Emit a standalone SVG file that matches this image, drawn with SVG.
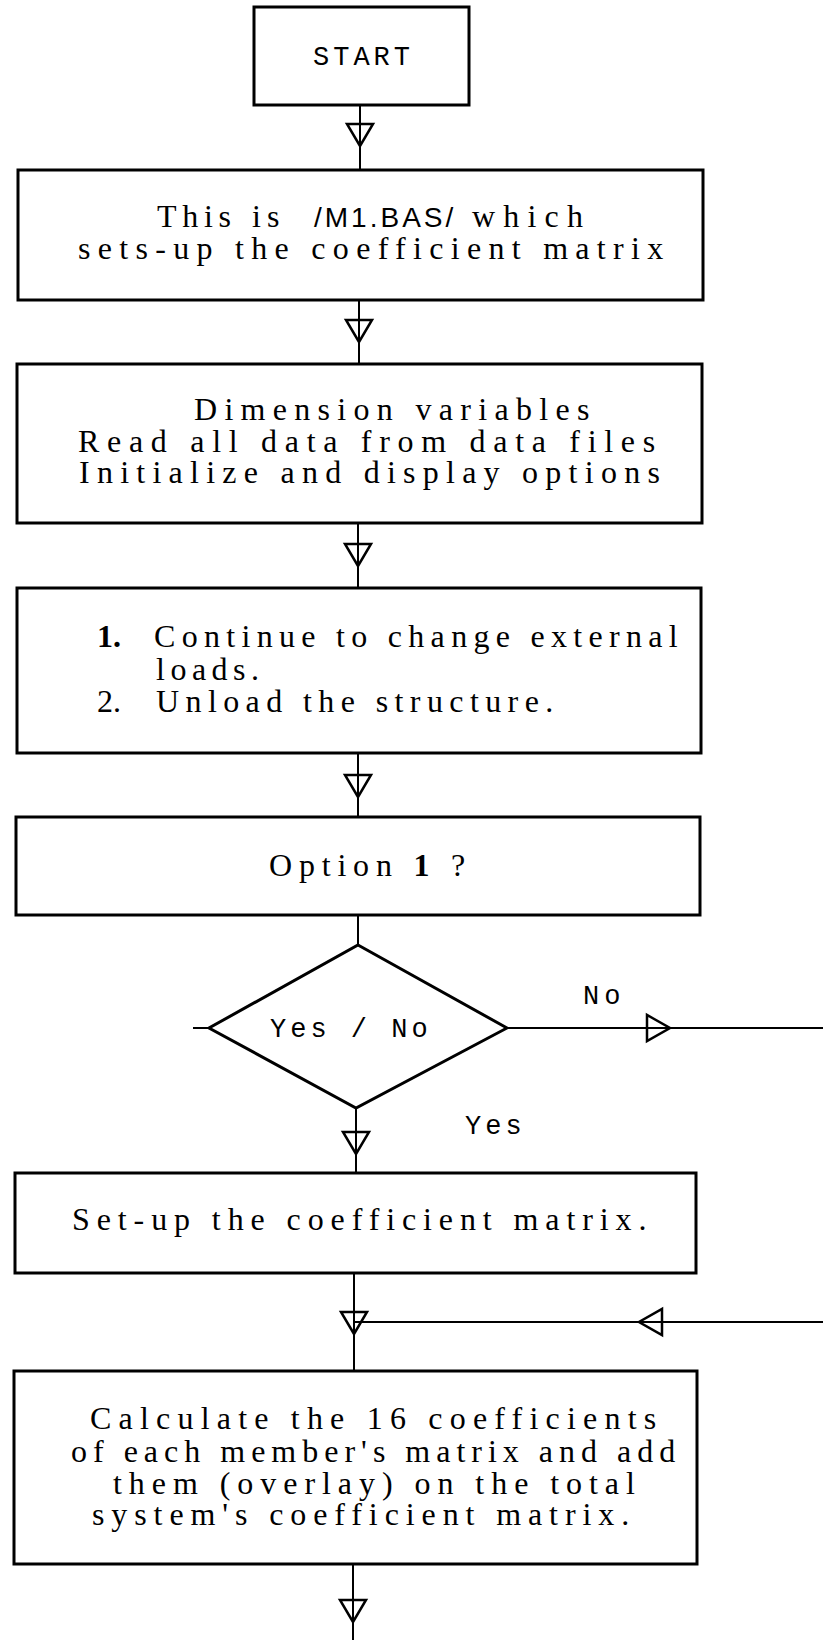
<svg xmlns="http://www.w3.org/2000/svg" width="823" height="1640" viewBox="0 0 823 1640">
<style>
.box{fill:#fff;stroke:#000;stroke-width:3}
.ln{fill:none;stroke:#000;stroke-width:2}
.tri{fill:none;stroke:#000;stroke-width:2.5;stroke-linejoin:miter}
.serif{font-family:"Liberation Serif","Times New Roman",serif;font-size:32px;fill:#000}
.mono{font-family:"Liberation Mono","Courier New",monospace;font-size:27px;fill:#000}
.sans{font-family:"Liberation Sans",Arial,sans-serif;font-size:28px}
</style>
<defs>
<path id="td" d="M-13,0 L13,0 L0,22 Z"/>
<path id="tr" d="M0,-13 L0,13 L23,0 Z"/>
<path id="tl" d="M0,-13 L0,13 L-23,0 Z"/>
</defs>
<rect width="823" height="1640" fill="#fff"/>

<g id="connectors">
<line class="ln" x1="360" y1="105" x2="360" y2="170"/>
<use href="#td" class="tri" x="360" y="124"/>
<line class="ln" x1="359" y1="300" x2="359" y2="364"/>
<use href="#td" class="tri" x="359" y="320"/>
<line class="ln" x1="358" y1="523" x2="358" y2="588"/>
<use href="#td" class="tri" x="358" y="544"/>
<line class="ln" x1="358" y1="753" x2="358" y2="817"/>
<use href="#td" class="tri" x="358" y="775"/>
<line class="ln" x1="358" y1="915" x2="358" y2="945"/>
<line class="ln" x1="193" y1="1028" x2="209" y2="1028"/>
<line class="ln" x1="507" y1="1028" x2="823" y2="1028"/>
<use href="#tr" class="tri" x="647" y="1028"/>
<line class="ln" x1="356" y1="1108" x2="356" y2="1173"/>
<use href="#td" class="tri" x="356" y="1132"/>
<line class="ln" x1="354" y1="1273" x2="354" y2="1371"/>
<use href="#td" class="tri" x="354" y="1312"/>
<line class="ln" x1="354" y1="1322" x2="823" y2="1322"/>
<use href="#tl" class="tri" x="662" y="1322"/>
<line class="ln" x1="353" y1="1564" x2="353" y2="1640"/>
<use href="#td" class="tri" x="353" y="1600"/>
<text class="mono" x="583" y="1004" dx="0 5">No</text>
<text class="mono" x="465" y="1134" dx="0 4 4">Yes</text>
</g>

<g id="start">
<rect class="box" x="254" y="7" width="215" height="98"/>
<text class="mono" x="313" y="65" dx="0 4 4 4 4">START</text>
</g>

<g id="intro">
<rect class="box" x="18" y="170" width="685" height="130"/>
<text class="serif" y="227"><tspan x="157" dx="0 5.7 5.7 5.7">This</tspan> <tspan x="252" dx="0 6">is</tspan> <tspan class="sans" x="314" dx="0 3 3 3 3 3 3 3">/M1.BAS/</tspan> <tspan x="472" dx="0 8.2 8.2 8.2 8.2">which</tspan></text>
<text class="serif" x="78" y="259" dx="0 7.3 7.3 7.3 7.3 7.3 7.3 7.3 7.3 7.3 7.3 7.3 7.3 7.3 7.3 7.3 7.3 7.3 7.3 7.3 7.3 7.3 7.3 7.3 7.3 7.3 7.3 7.3 7.3 7.3">sets-up the coefficient matrix</text>
</g>

<g id="init">
<rect class="box" x="17" y="364" width="685" height="159"/>
<text class="serif" x="194" y="420" dx="0 7.3 7.3 7.3 7.3 7.3 7.3 7.3 7.3 7.3 7.3 7.3 7.3 7.3 7.3 7.3 7.3 7.3 7.3">Dimension variables</text>
<text class="serif" x="78" y="452" dx="0 7.7 7.7 7.7 7.7 7.7 7.7 7.7 7.7 7.7 7.7 7.7 7.7 7.7 7.7 7.7 7.7 7.7 7.7 7.7 7.7 7.7 7.7 7.7 7.7 7.7 7.7 7.7 7.7">Read all data from data files</text>
<text class="serif" x="79" y="483" dx="0 7.25 7.25 7.25 7.25 7.25 7.25 7.25 7.25 7.25 7.25 7.25 7.25 7.25 7.25 7.25 7.25 7.25 7.25 7.25 7.25 7.25 7.25 7.25 7.25 7.25 7.25 7.25 7.25 7.25">Initialize and display options</text>
</g>

<g id="options">
<rect class="box" x="17" y="588" width="684" height="165"/>
<text class="serif" x="97" y="647" font-weight="bold">1.</text>
<text class="serif" x="154" y="647" dx="0 6.3 6.3 6.3 6.3 6.3 6.3 6.3 6.3 6.3 6.3 6.3 6.3 6.3 6.3 6.3 6.3 6.3 6.3 6.3 6.3 6.3 6.3 6.3 6.3 6.3 6.3">Continue to change external</text>
<text class="serif" x="156" y="680" dx="0 5.5 5.5 5.5 5.5 5.5">loads.</text>
<text class="serif" x="97" y="712">2.</text>
<text class="serif" x="156" y="712" dx="0 6.4 6.4 6.4 6.4 6.4 6.4 6.4 6.4 6.4 6.4 6.4 6.4 6.4 6.4 6.4 6.4 6.4 6.4 6.4 6.4">Unload the structure.</text>
</g>

<g id="option1">
<rect class="box" x="16" y="817" width="684" height="98"/>
<text class="serif" x="269" y="876" dx="0 6.8 6.8 6.8 6.8 6.8 6.8 6.8 6.8 6.8">Option <tspan font-weight="bold">1</tspan> ?</text>
</g>

<g id="decision">
<polygon class="box" points="358,945 507,1028 356,1108 209,1028"/>
<text class="mono" x="270" y="1037" dx="0 4 4 4 4 4 4 4">Yes / No</text>
</g>

<g id="setup">
<rect class="box" x="15" y="1173" width="681" height="100"/>
<text class="serif" x="72" y="1230" dx="0 6.9 6.9 6.9 6.9 6.9 6.9 6.9 6.9 6.9 6.9 6.9 6.9 6.9 6.9 6.9 6.9 6.9 6.9 6.9 6.9 6.9 6.9 6.9 6.9 6.9 6.9 6.9 6.9 6.9">Set-up the coefficient matrix.</text>
</g>

<g id="calculate">
<rect class="box" x="14" y="1371" width="683" height="193"/>
<text class="serif" x="90" y="1429" dx="0 7.2 7.2 7.2 7.2 7.2 7.2 7.2 7.2 7.2 7.2 7.2 7.2 7.2 7.2 7.2 7.2 7.2 7.2 7.2 7.2 7.2 7.2 7.2 7.2 7.2 7.2 7.2 7.2">Calculate the 16 coefficients</text>
<text class="serif" x="71" y="1462" dx="0 6 6 6 6 6 6 6 6 6 6 6 6 6 6 6 6 6 6 6 6 6 6 6 6 6 6 6 6 6 6">of each member's matrix and add</text>
<text class="serif" x="113" y="1494" dx="0 6.95 6.95 6.95 6.95 6.95 6.95 6.95 6.95 6.95 6.95 6.95 6.95 6.95 6.95 6.95 6.95 6.95 6.95 6.95 6.95 6.95 6.95 6.95 6.95 6.95 6.95">them (overlay) on the total</text>
<text class="serif" x="92" y="1525" dx="0 6.9 6.9 6.9 6.9 6.9 6.9 6.9 6.9 6.9 6.9 6.9 6.9 6.9 6.9 6.9 6.9 6.9 6.9 6.9 6.9 6.9 6.9 6.9 6.9 6.9 6.9 6.9">system's coefficient matrix.</text>
</g>
</svg>
